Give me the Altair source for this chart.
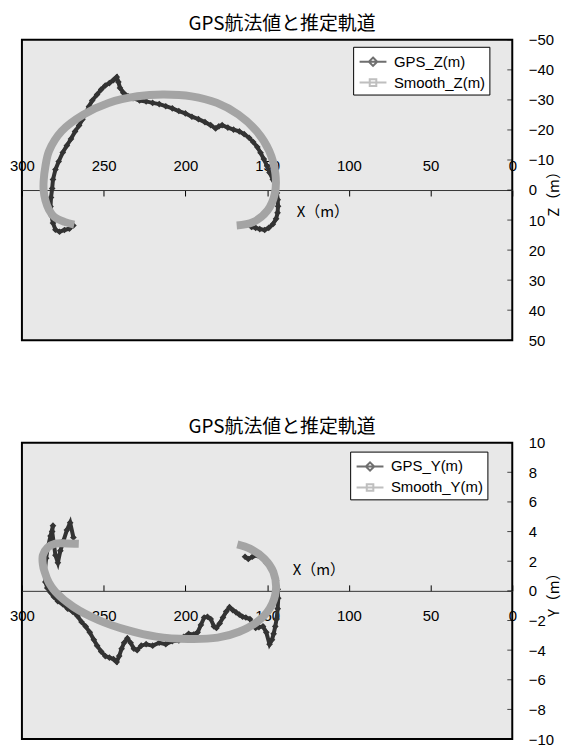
import altair as alt
import pandas as pd

# ---------------- data ----------------
title_text = "GPS航法値と推定軌道"
x_ticks = [300, 250, 200, 150, 100, 50, 0]
z_ticks = [-50, -40, -30, -20, -10, 0, 10, 20, 30, 40, 50]
y_ticks = [10, 8, 6, 4, 2, 0, -2, -4, -6, -8, -10]

names_z = ["GPS_Z(m)", "Smooth_Z(m)"]
names_y = ["GPS_Y(m)", "Smooth_Y(m)"]

gps_z = [(268.5, 11.8), (271, 12.9), (274, 13.3), (277, 13.9), (279.5, 13.2), (281, 11.0),
         (282, 8.5), (282.5, 5.5), (282.2, 2.5), (281.5, -0.5), (281, -3.5), (279.5, -6.8),
         (277.5, -9.5), (275, -12.5), (272.5, -14.8), (270, -17.0), (267.5, -19.5), (265, -21.5),
         (263, -23.5), (261, -25.5), (259, -27.8), (257, -29.8), (254, -31.8), (251.5, -33.5),
         (249, -34.8), (246.5, -35.6), (244, -36.6), (242, -37.6), (241, -36.0), (240, -34.0),
         (238, -32.4), (235, -31.2), (232, -30.6), (228, -29.8), (224, -29.5), (220, -29.0),
         (216, -28.6), (212, -27.9), (208, -27.2), (204, -26.3), (200, -25.5), (196, -24.4),
         (192, -23.6), (188, -22.6), (184.5, -21.6), (181.5, -20.5), (179.5, -21.2), (177.5, -21.6),
         (174, -20.8), (170.5, -20.1), (167, -19.5), (164, -18.6), (161, -17.4), (158.5, -16.0),
         (156, -14.3), (154, -12.4), (152, -10.3), (150, -8.0), (148.5, -5.8), (146.5, -3.5),
         (145, -1.2), (144, 1.0), (143.5, 3.2), (143.3, 5.4), (143.6, 7.6), (144.5, 9.6),
         (146.5, 11.4), (149, 12.6), (151.5, 13.3), (154.5, 13.0), (157, 12.6), (159.5, 12.3)]

smooth_z = [(268, 11.5), (274, 10.6), (280.1, 9.0), (283.5, 6.5), (285.6, 3.5), (286.7, 0.2),
            (286.7, -3.1), (285.6, -8.0), (283.4, -13.0), (275.7, -19.6), (262.4, -25.1),
            (247, -29.0), (229.3, -31.2), (213.8, -31.8), (196.2, -31.2), (180.7, -29.0),
            (167.5, -25.1), (156.4, -19.6), (148.7, -13.0), (144.9, -5.3), (145.3, 1.3),
            (149.7, 6.8), (158.6, 10.7), (168.6, 11.8)]

gps_y = [(268.5, 3.6), (270.5, 4.6), (272.5, 4.1), (274.5, 3.4), (276.5, 2.7), (278, 1.9),
         (279.5, 2.4), (280.5, 3.2), (281.5, 4.0), (281, 4.4), (282.5, 3.7), (284, 3.0),
         (285.2, 2.2), (286, 1.3), (285.7, 0.6), (284.5, 0.2), (282.5, -0.1), (280.5, -0.4),
         (278, -0.7), (275, -0.9), (272, -1.2), (269, -1.4), (266, -1.7), (263.5, -2.1),
         (261, -2.4), (258.5, -2.8), (256, -3.3), (254, -3.7), (251.5, -4.1), (249, -4.4),
         (246.5, -4.5), (244, -4.6), (242, -4.8), (240.5, -4.4), (239, -3.9), (237.5, -3.5),
         (235.5, -3.2), (233.5, -3.5), (231.5, -3.9), (229.5, -4.0), (227, -3.7), (224, -3.6),
         (220, -3.7), (216, -3.5), (212, -3.6), (208, -3.4), (204, -3.35), (201, -3.1),
         (198, -2.9), (195, -2.95), (192.5, -2.8), (190.5, -2.3), (188.5, -1.8), (186.5, -1.75),
         (184.5, -1.9), (182.5, -2.4), (181, -2.5), (179, -2.2), (177, -1.8), (175, -1.4),
         (173, -1.1), (171, -1.3), (169, -1.45), (167, -1.6), (165, -1.75), (163, -1.8),
         (160.5, -1.9), (158.5, -2.3), (157, -2.5), (155, -2.45), (152.5, -2.4), (150.5, -2.8),
         (148.5, -3.6), (147, -3.3), (146, -2.9), (145, -2.4), (144.2, -1.9), (143.5, -1.2),
         (143.2, -0.5), (143.5, 0.1), (144.5, 0.7), (146, 1.2), (148, 1.6), (150.5, 1.9),
         (153, 2.2), (156, 2.4), (159, 2.3), (161.5, 2.15), (163.5, 2.3)]

smooth_y = [(265.2, 3.18), (272.5, 3.2), (279.5, 3.18), (284.5, 2.9), (287.2, 2.4), (287.2, 1.8),
            (286.1, 1.28), (283.5, 0.55), (279.5, -0.07), (268.5, -1.08), (253.1, -1.97),
            (235.4, -2.65), (217.8, -3.09), (198, -3.25), (180.3, -3.16), (167.1, -2.76),
            (156.1, -2.09), (148.4, -1.19), (144.6, 0.04), (146.2, 1.28), (151.7, 2.17),
            (160.5, 2.85), (168.2, 3.14)]

# ---------------- styling ----------------
LF = "Liberation Sans"
CJK = "Noto Sans CJK JP"
GPS_COLOR = "#333333"
SMOOTH_COLOR = "#a4a4a4"
PATH_GPS = "M-1.35,0H1.35M0,-0.42L0.42,0L0,0.42L-0.42,0Z"
PATH_SMOOTH = "M-1.35,0H1.35M-0.33,-0.33H0.33V0.33H-0.33Z"
W = 493


def frame(points):
    df = pd.DataFrame(points, columns=["x", "v"])
    df["i"] = range(len(df))
    return df


def panel(gps, smooth, names, yticks, ydomain, yreverse, ytitle, h,
          x_orient, lab_pad, title_y, title_x, legend_x, legend_y):
    xenc = alt.X(
        "x:Q",
        scale=alt.Scale(domain=[0, 300], reverse=True, nice=False, zero=False),
        axis=alt.Axis(
            orient=x_orient, offset=-h / 2, values=x_ticks, format="d",
            tickSize=6, tickColor="#000000", tickWidth=1,
            domainColor="#333333", domainWidth=1,
            labelPadding=lab_pad, labelFlush=False, labelOverlap=False,
            labelFont=LF, labelFontSize=15, labelColor="#000000",
            title="X（m）", titleFont=CJK, titleFontSize=15, titleFontWeight="normal",
            titleColor="#000000", titleX=title_x, titleY=title_y,
            titleAlign="center", titleBaseline="middle", grid=False,
        ),
    )
    yenc = alt.Y(
        "v:Q",
        scale=alt.Scale(domain=ydomain, reverse=yreverse, nice=False, zero=False),
        axis=alt.Axis(
            orient="right", values=yticks, format="d", ticks=False, domain=False,
            labelPadding=16, labelAlign="left", labelFont=LF, labelFontSize=15,
            labelColor="#000000", labelOverlap=False, labelFlush=False,
            title=ytitle, titleFont=CJK, titleFontSize=15, titleFontWeight="normal",
            titleColor="#000000", titleAngle=270, titleX=41, titleY=h / 2,
            titleAlign="center", titleBaseline="middle", grid=False,
        ),
    )
    gdf = frame(gps)
    sdf = frame(smooth)
    order = alt.Order("i:Q")

    gps_line = alt.Chart(gdf).mark_line(color=GPS_COLOR, strokeWidth=4).encode(
        x=xenc, y=yenc, order=order)
    gps_pts = alt.Chart(gdf).mark_point(shape="diamond", filled=True, size=45,
                                         color=GPS_COLOR, opacity=1).encode(x=xenc, y=yenc)
    smooth_line = alt.Chart(sdf).mark_line(color=SMOOTH_COLOR, strokeWidth=8,
                                           interpolate="catmull-rom", strokeCap="butt").encode(
        x=xenc, y=yenc, order=order)
    tdf = pd.DataFrame({"x": [0] * len(yticks), "v": yticks})
    ticks = alt.Chart(tdf).mark_tick(orient="horizontal", size=5, thickness=1,
                                     xOffset=-2.5, color="#000000").encode(x=xenc, y=yenc)

    leg_props = dict(
        orient="none", legendX=legend_x, legendY=legend_y, title=None,
        fillColor="#ffffff", strokeColor="#000000", padding=4,
        labelFont=LF, labelFontSize=15, labelColor="#000000",
        symbolSize=400, symbolStrokeWidth=2, rowPadding=1,
        symbolOffset=5, labelOffset=10,
    )
    ldf = pd.DataFrame({"s": names, "x": [0, 0], "v": [0, 0]})
    legend_layer = alt.Chart(ldf).mark_point(filled=False).encode(
        x=xenc, y=yenc,
        color=alt.Color("s:N", scale=alt.Scale(domain=names, range=[GPS_COLOR, SMOOTH_COLOR]),
                        legend=alt.Legend(**leg_props)),
        shape=alt.Shape("s:N", scale=alt.Scale(domain=names, range=[PATH_GPS, PATH_SMOOTH]),
                        legend=alt.Legend(**leg_props)),
    ).transform_filter("datum.x > 1000")

    return alt.layer(gps_line, gps_pts, smooth_line, ticks, legend_layer).properties(
        width=W, height=h,
        title=alt.TitleParams(title_text, font=CJK, fontSize=19, fontWeight="normal",
                              color="#000000", anchor="middle", frame="group", dx=15, offset=-1),
    )


top = panel(gps_z, smooth_z, names_z, z_ticks, [-50, 50], True, "Z（m）", 302,
            "bottom", -38, 22, 302, 333, 7)
bottom = panel(gps_y, smooth_y, names_y, y_ticks, [-10, 10], False, "Y（m）", 298,
               "top", -39, -21, 298, 330, 9)

chart = alt.vconcat(top, bottom, spacing=68).resolve_scale(
    color="independent", shape="independent"
).properties(
    padding={"top": 4, "left": 0, "right": 0, "bottom": 0}, background="#ffffff"
).configure_view(
    stroke="#000000", strokeWidth=2, fill="#e8e8e8"
)

chart.save("out.html", embed_options={"renderer": "svg", "actions": False})
